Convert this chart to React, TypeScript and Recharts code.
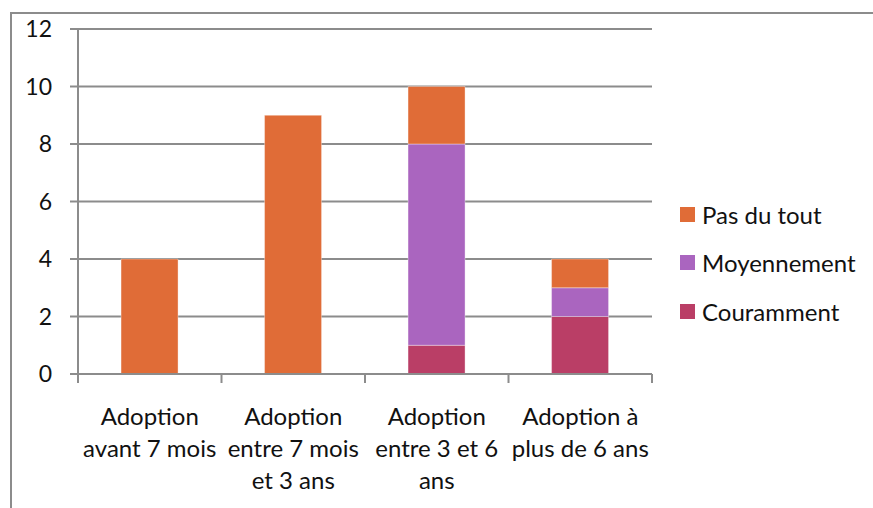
import React from 'react';
import { BarChart, Bar, XAxis, YAxis, CartesianGrid } from 'recharts';

// category labels, already broken into lines as in the original
const categoryLines = [
  ['Adoption', 'avant 7 mois'],
  ['Adoption', 'entre 7 mois', 'et 3 ans'],
  ['Adoption', 'entre 3 et 6', 'ans'],
  ['Adoption à', 'plus de 6 ans'],
];
const couramment = [0, 0, 1, 2];
const moyennement = [0, 0, 7, 1];
const pasDuTout = [4, 9, 2, 1];
const yTicks = [0, 2, 4, 6, 8, 10, 12];

const series = [
  { key: 'couramment', name: 'Couramment', color: '#BA3E66' },
  { key: 'moyennement', name: 'Moyennement', color: '#AA65BF' },
  { key: 'pasDuTout', name: 'Pas du tout', color: '#E06C37' },
];

const data = categoryLines.map((lines, i) => ({
  cat: lines.join(' '),
  couramment: couramment[i],
  moyennement: moyennement[i],
  pasDuTout: pasDuTout[i],
}));

const FONT = 'Lato, "Open Sans", sans-serif';
const AXIS = '#8c8c8c';
const PLOT_LEFT = 78;
const PLOT_RIGHT = 652;
const HALF_BAND = (PLOT_RIGHT - PLOT_LEFT) / categoryLines.length / 2;

function CategoryTick(props: any) {
  const { x, y, payload, index } = props;
  const lines = categoryLines[index] || [String(payload.value)];
  const last = index === categoryLines.length - 1;
  return (
    <g>
      <line x1={x - HALF_BAND} x2={x - HALF_BAND} y1={y} y2={y + 9} stroke={AXIS} strokeWidth={2} />
      {last && <line x1={x + HALF_BAND} x2={x + HALF_BAND} y1={y} y2={y + 9} stroke={AXIS} strokeWidth={2} />}
      <text x={x} y={y + 51} textAnchor="middle" fontFamily={FONT} fontSize={24} fill="#111">
        {lines.map((l, i) => (
          <tspan key={i} x={x} dy={i === 0 ? 0 : 32}>{l}</tspan>
        ))}
      </text>
    </g>
  );
}

function LegendBox() {
  return (
    <div style={{ position: 'absolute', left: 680, top: 190, fontFamily: FONT, fontSize: 24, color: '#111' }}>
      {[...series].reverse().map(s => (
        <div key={s.key} style={{ display: 'flex', alignItems: 'center', height: 48.5 }}>
          <span style={{ width: 15, height: 15, background: s.color, display: 'inline-block', marginRight: 7 }} />
          <span>{s.name}</span>
        </div>
      ))}
    </div>
  );
}

export default function App() {
  return (
    <div style={{ position: 'absolute', left: 0, top: 0, width: 873, height: 508, overflow: 'hidden', background: '#fff' }}>
      <div style={{ position: 'absolute', left: 10, top: 12, width: 900, height: 600, borderLeft: `2px solid ${AXIS}`, borderTop: `2px solid ${AXIS}` }} />
      <div style={{ position: 'absolute', left: 0, top: 0 }}>
        <BarChart width={873} height={508} data={data} margin={{ top: 29, right: 221, bottom: 0, left: 0 }} barCategoryGap="30%">
          <CartesianGrid vertical={false} stroke={AXIS} strokeWidth={2} />
          <XAxis
            dataKey="cat"
            height={134}
            axisLine={{ stroke: AXIS, strokeWidth: 2 }}
            tickLine={false}
            tickSize={0}
            tickMargin={0}
            tick={<CategoryTick />}
            interval={0}
          />
          <YAxis
            width={78}
            domain={[0, 12]}
            ticks={yTicks}
            axisLine={{ stroke: AXIS, strokeWidth: 2 }}
            tickLine={{ stroke: AXIS, strokeWidth: 2 }}
            tickSize={8}
            tickMargin={18}
            tick={{ fontFamily: FONT, fontSize: 23, fill: '#111' }}
          />
          {series.map(s => (
            <Bar key={s.key} dataKey={s.key} name={s.name} stackId="a" fill={s.color}
              stroke="#ffffff" strokeOpacity={0.35} strokeWidth={1} isAnimationActive={false} />
          ))}
        </BarChart>
      </div>
      <LegendBox />
    </div>
  );
}
